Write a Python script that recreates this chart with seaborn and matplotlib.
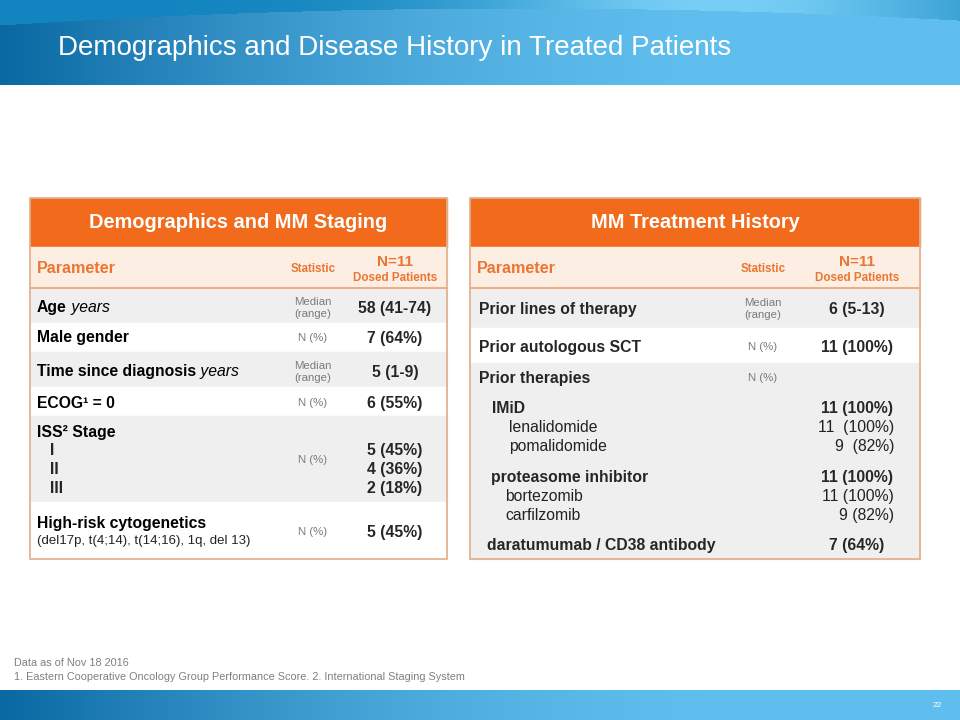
import numpy as np
import matplotlib
matplotlib.use("Agg")
from matplotlib import pyplot as plt
from matplotlib.patches import Rectangle
import seaborn as sns

sns.set_theme(style="white")
plt.rcParams['font.family'] = ['Liberation Sans', 'DejaVu Sans']

# ---- slide text / table data ----
title = "Demographics and Disease History in Treated Patients"
left_title = "Demographics and MM Staging"
right_title = "MM Treatment History"
col_param = "Parameter"
col_stat = "Statistic"
col_n = "N=11"
col_n_sub = "Dosed Patients"

demo_params = ["Age", "Male gender", "Time since diagnosis", "ECOG¹ = 0", "ISS² Stage", "High-risk cytogenetics"]
demo_units = [" years", "", " years", "", "", ""]
demo_sublines = ["", "", "", "", "", "(del17p, t(4;14), t(14;16), 1q, del 13)"]
demo_stats = ["Median\n(range)", "N (%)", "Median\n(range)", "N (%)", "N (%)", "N (%)"]
demo_values = ["58 (41-74)", "7 (64%)", "5 (1-9)", "6 (55%)", "", "5 (45%)"]
iss_stages = ["I", "II", "III"]
iss_values = ["5 (45%)", "4 (36%)", "2 (18%)"]

tx_params = ["Prior lines of therapy", "Prior autologous SCT", "Prior therapies"]
tx_stats = ["Median\n(range)", "N (%)", "N (%)"]
tx_values = ["6 (5-13)", "11 (100%)", ""]
therapy_groups = ["IMiD", "proteasome inhibitor", "daratumumab / CD38 antibody"]
therapy_group_values = ["11 (100%)", "11 (100%)", "7 (64%)"]
therapy_agents = [["lenalidomide", "pomalidomide"], ["bortezomib", "carfilzomib"], []]
therapy_agent_values = [["11  (100%)", "9  (82%)"], ["11 (100%)", "9 (82%)"], []]

footnote_date = "Data as of Nov 18 2016"
footnote_refs = "1. Eastern Cooperative Oncology Group Performance Score. 2. International Staging System"
page_number = "22"

# ---- colours ----
orange = "#f26b1c"
peach = "#fdeee4"
orange_text = "#ea7632"
gray_row = "#efefef"
border = "#e2b390"
stat_gray = "#7a7a7a"

LBL = 11.3   # row label / value size
STAT = 8.2

W, H = 960, 720
fig = plt.figure(figsize=(9.6, 7.2), dpi=100)
ax = fig.add_axes([0, 0, 1, 1])
ax.set_xlim(0, W)
ax.set_ylim(H, 0)
ax.axis('off')
renderer = fig.canvas.get_renderer()


def blue_gradient(h, arc=False):
    x = np.linspace(0, 1, W)
    t = 1 - (1 - np.clip(x * 1.35, 0, 1)) ** 1.6
    c0 = np.array([0x0a, 0x68, 0xa2]) / 255
    c1 = np.array([0x60, 0xbe, 0xee]) / 255
    row = c0[None, :] * (1 - t[:, None]) + c1[None, :] * t[:, None]
    img = np.repeat(row[None, :, :], h, axis=0)
    if arc:
        px = np.arange(W)
        yc = 8 + 17 * ((px - 520) / 520.0) ** 2
        glow = np.exp(-((px - 720) / 260.0) ** 2)
        d0 = np.array([0x12, 0x84, 0xbf]) / 255
        d1 = np.array([0x78, 0xcf, 0xf6]) / 255
        top = d0[None, :] * (1 - glow[:, None]) + d1[None, :] * glow[:, None]
        for yy in range(h):
            mask = yy < yc
            img[yy, mask] = top[mask]
    return img


def put(x, y, s, size, **kw):
    # y is the vertical centre of the capitals; draw on the baseline so runs line up
    return ax.text(x, y + 0.34 * size * 100 / 72, s, fontsize=size, va='baseline', **kw)


ax.imshow(blue_gradient(85, arc=True), extent=[0, W, 85, 0], aspect='auto', zorder=0)
ax.imshow(blue_gradient(30), extent=[0, W, 720, 690], aspect='auto', zorder=0)
ax.set_xlim(0, W)
ax.set_ylim(H, 0)

put(58, 46, title, 20, color='white', family=['Liberation Sans Narrow', 'Liberation Sans'])
put(937, 704, page_number, 6, color='white', ha='center')
put(14, 662, footnote_date, 7.85, color='#7f7f7f',
    family=['Liberation Sans Narrow', 'Liberation Sans'])
put(14, 676, footnote_refs, 7.85, color='#7f7f7f',
    family=['Liberation Sans Narrow', 'Liberation Sans'])


def runs(x, y, parts, size, color='black'):
    for txt, weight, style in parts:
        t = put(x, y, txt, size, fontweight=weight, fontstyle=style, color=color, ha='left')
        x += t.get_window_extent(renderer).width


def frame(x0, x1, name, stat_x, val_x):
    ax.add_patch(Rectangle((x0, 198), x1 - x0, 49, color=orange, zorder=1))
    put((x0 + x1) / 2, 221, name, 14.4, color='white', fontweight='bold', ha='center', zorder=3)
    ax.add_patch(Rectangle((x0, 247), x1 - x0, 41, color=peach, zorder=1))
    ax.plot([x0, x1], [288, 288], color='#f0a070', lw=1.2, zorder=2)
    put(x0 + 7, 268, col_param, 11.6, color=orange_text, fontweight='bold', zorder=3)
    put(stat_x, 268, col_stat, 8.3, color=orange_text, fontweight='bold', ha='center', zorder=3)
    put(val_x, 261, col_n, 11, color=orange_text, fontweight='bold', ha='center', zorder=3)
    put(val_x, 277, col_n_sub, 8.4, color=orange_text, fontweight='bold', ha='center', zorder=3)


def outline(x0, x1):
    ax.add_patch(Rectangle((x0, 198), x1 - x0, 361, fill=False, ec=border, lw=1.3, zorder=4))


# ---- left table ----
lx0, lx1, lstat, lval = 30, 447, 313, 395
frame(lx0, lx1, left_title, lstat, lval)
l_rows = [(288, 323), (323, 352), (352, 387), (387, 416), (416, 502), (502, 559)]
l_text_y = [307, 337, 371, 403, 432, 523]
l_stat_y = [308, 338, 372, 403, 460, 532]
for i, (r0, r1) in enumerate(l_rows):
    ax.add_patch(Rectangle((lx0, r0), lx1 - lx0, r1 - r0,
                           color=gray_row if i % 2 == 0 else 'white', zorder=1))
    parts = [(demo_params[i], 'bold', 'normal')]
    if demo_units[i]:
        parts.append((demo_units[i], 'normal', 'italic'))
    runs(37, l_text_y[i], parts, LBL)
    if demo_sublines[i]:
        put(37, 540, demo_sublines[i], 9.5, color='#222222')
    ax.text(lstat, l_stat_y[i], demo_stats[i], fontsize=STAT, color=stat_gray,
            ha='center', va='center', linespacing=1.3)
    if demo_values[i]:
        put(lval, l_stat_y[i], demo_values[i], LBL, fontweight='bold', ha='center')
for stage, val, yy in zip(iss_stages, iss_values, [450, 469, 488]):
    put(50, yy, stage, LBL, fontweight='bold')
    put(lval, yy, val, LBL, fontweight='bold', ha='center')
outline(lx0, lx1)

# ---- right table ----
rx0, rx1, rstat, rval = 470, 920, 763, 857
frame(rx0, rx1, right_title, rstat, rval)
r_rows = [(288, 328), (328, 363), (363, 559)]
r_text_y = [309, 347, 378]
for i, (r0, r1) in enumerate(r_rows):
    ax.add_patch(Rectangle((rx0, r0), rx1 - rx0, r1 - r0,
                           color=gray_row if i % 2 == 0 else 'white', zorder=1))
    put(479, r_text_y[i], tx_params[i], LBL, fontweight='bold')
    ax.text(rstat, r_text_y[i], tx_stats[i], fontsize=STAT, color=stat_gray,
            ha='center', va='center', linespacing=1.3)
    if tx_values[i]:
        put(rval, r_text_y[i], tx_values[i], LBL, fontweight='bold', ha='center')

group_y = [408, 477, 545]
group_x = [492, 491, 487]
agent_x = [509, 505]
for g, name in enumerate(therapy_groups):
    put(group_x[g], group_y[g], name, LBL, fontweight='bold')
    put(rval, group_y[g], therapy_group_values[g], LBL, fontweight='bold', ha='center')
    for k, (agent, val) in enumerate(zip(therapy_agents[g], therapy_agent_values[g])):
        yy = group_y[g] + 19 * (k + 1)
        put(agent_x[g], yy, agent, LBL, color='#222222')
        put(894, yy, val, LBL, color='#222222', ha='right')
outline(rx0, rx1)

fig.savefig("out.png", dpi=100)
